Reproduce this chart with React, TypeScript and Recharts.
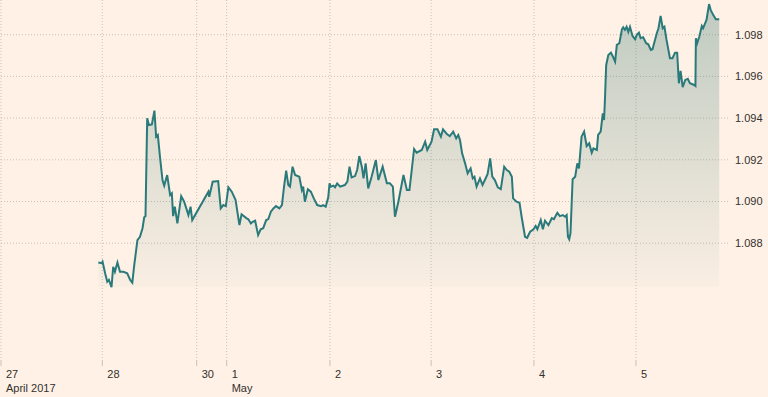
import { AreaChart, Area, XAxis, YAxis, CartesianGrid } from "recharts";

// trading hours since 27 April 00:00 (weekend squeezed, as on the source chart)
const hours = [
  22.9, 23.7, 23.9, 24.5, 25.0, 25.4, 26.0, 26.4, 26.8, 27.4, 28.0, 28.8, 29.7, 30.4, 30.9, 31.3,
  32.1, 32.7, 33.3, 33.7, 34.0, 34.4, 34.8, 35.5, 36.1, 36.5, 36.9, 37.4, 38.0, 38.4, 39.1, 39.8,
  40.2, 40.5, 40.9, 41.5, 42.4, 43.1, 44.1, 44.6, 45.0, 48.8, 49.0, 49.8, 51.1, 51.7, 52.3, 52.9,
  53.5, 54.3, 55.2, 56.1, 56.6, 57.8, 58.2, 58.8, 59.2, 59.8, 60.5, 61.1, 61.7, 62.4, 62.9, 63.5,
  64.1, 64.7, 65.5, 66.1, 66.6, 67.1, 67.6, 68.0, 68.6, 69.2, 70.2, 70.8, 71.1, 71.5, 72.2, 72.9,
  73.6, 74.4, 75.3, 75.8, 76.4, 77.0, 77.3, 77.6, 78.2, 78.6, 79.1, 79.8, 80.9, 81.5, 82.0, 82.5,
  83.3, 83.8, 84.3, 84.9, 85.3, 85.8, 86.4, 87.2, 88.2, 88.8, 89.8, 90.8, 91.5, 92.2, 92.7, 93.5,
  94.7, 95.5, 96.1, 96.6, 97.2, 97.8, 99.0, 99.8, 100.3, 101.3, 101.9, 102.7, 103.5, 104.0, 104.9,
  105.6, 106.4, 107.1, 107.6, 108.0, 108.5, 109.2, 109.8, 110.5, 111.0, 111.4, 111.9, 112.7, 113.3,
  114.1, 114.5, 115.1, 115.6, 116.2, 116.9, 117.6, 118.4, 119.0, 119.6, 120.2, 120.5, 121.3, 122.0,
  122.5, 123.3, 123.8, 124.5, 125.3, 125.8, 126.2, 127.0, 127.5, 128.0, 128.8, 129.6, 130.1, 130.9,
  131.5, 132.2, 132.7, 133.1, 133.4, 133.7, 134.0, 134.5, 135.1, 135.6, 136.0, 136.6, 137.2, 137.8,
  138.4, 139.0, 139.4, 140.2, 140.5, 141.1, 141.6, 141.9, 142.1, 142.4, 142.9, 143.5, 144.0, 144.5,
  144.9, 145.5, 146.1, 146.4, 146.8, 147.2, 147.6, 148.0, 148.6, 149.2, 149.6, 150.1, 150.5, 151.1,
  151.8, 152.3, 152.9, 153.3, 154.3, 154.7, 155.2, 155.7, 156.1, 156.6, 157.4, 158.0, 158.6, 159.1,
  159.5, 159.9, 160.4, 161.0, 161.6, 162.1, 163.1, 163.4, 163.5, 163.8, 164.3, 164.9, 165.2, 165.6,
  166.0, 166.6, 167.0, 167.6, 168.2, 169.0,
];

// EUR/USD
const rate = [
  1.08707, 1.08704, 1.08711, 1.08656, 1.08615, 1.08624, 1.08589, 1.08687, 1.08663, 1.08707, 1.08663,
  1.08663, 1.08656, 1.08624, 1.08611, 1.08687, 1.08815, 1.08831, 1.08872, 1.08924, 1.0893, 1.09399,
  1.09367, 1.0937, 1.09436, 1.09311, 1.09319, 1.09215, 1.09103, 1.09076, 1.09127, 1.09031, 1.09039,
  1.0893, 1.08975, 1.08895, 1.09026, 1.08999, 1.08935, 1.08975, 1.08911, 1.09047, 1.09023, 1.09095,
  1.09098, 1.08967, 1.08983, 1.08978, 1.09068, 1.09047, 1.09007, 1.08887, 1.08939, 1.08919, 1.08915,
  1.08895, 1.08903, 1.08908, 1.08839, 1.08867, 1.08872, 1.08911, 1.08916, 1.08951, 1.08967, 1.08978,
  1.08967, 1.08983, 1.09071, 1.09148, 1.09079, 1.09071, 1.09167, 1.09127, 1.09119, 1.09055, 1.09071,
  1.08999, 1.09059, 1.09047, 1.09015, 1.08983, 1.08978, 1.08983, 1.08975, 1.0902, 1.09087, 1.09071,
  1.09076, 1.09068, 1.09087, 1.09071, 1.09079, 1.09095, 1.09167, 1.09116, 1.09122, 1.09151, 1.09218,
  1.09167, 1.09111, 1.09183, 1.09063, 1.09119, 1.09199, 1.09103, 1.09167, 1.09087, 1.09087, 1.09071,
  1.08927, 1.08999, 1.09127, 1.09055, 1.09055, 1.09143, 1.09252, 1.09234, 1.09247, 1.09287, 1.09247,
  1.09287, 1.09346, 1.09346, 1.09311, 1.09346, 1.09324, 1.09314, 1.09335, 1.09303, 1.09319, 1.09295,
  1.09231, 1.09183, 1.09135, 1.09159, 1.09111, 1.09119, 1.09071, 1.09111, 1.09079, 1.09114, 1.09132,
  1.09207, 1.09119, 1.09103, 1.09068, 1.09059, 1.09167, 1.09151, 1.09143, 1.09119, 1.09015, 1.08999,
  1.08994, 1.08927, 1.08831, 1.08826, 1.08855, 1.08867, 1.08883, 1.08867, 1.08911, 1.08867, 1.08908,
  1.08887, 1.0892, 1.08915, 1.08946, 1.0893, 1.08935, 1.08927, 1.08935, 1.08831, 1.08819, 1.08848,
  1.09107, 1.09119, 1.09183, 1.09159, 1.09311, 1.09335, 1.09266, 1.09279, 1.09234, 1.09255, 1.09247,
  1.09319, 1.09335, 1.09423, 1.09391, 1.09487, 1.09655, 1.09703, 1.09714, 1.09694, 1.09671, 1.09751,
  1.09759, 1.09826, 1.09835, 1.09823, 1.09838, 1.09814, 1.09838, 1.09794, 1.09778, 1.09799, 1.0981,
  1.09783, 1.09788, 1.09759, 1.09754, 1.09727, 1.0973, 1.09807, 1.09831, 1.0989, 1.09831, 1.09838,
  1.09775, 1.09687, 1.09687, 1.09714, 1.09714, 1.09567, 1.09627, 1.09548, 1.09583, 1.09588, 1.09567,
  1.09559, 1.09554, 1.09783, 1.09759, 1.0979, 1.09842, 1.09831, 1.09851, 1.09871, 1.09947, 1.09918,
  1.09894, 1.09874, 1.09874,
];

const dayTicks = [0, 23.83, 46.05, 53.1, 77.4, 101.2, 125.4, 149.4];
const dayLabels = ["27", "28", "30", "1", "2", "3", "4", "5"];
const monthLabels = ["April 2017", "", "", "May", "", "", "", ""];
const rateTicks = [1.088, 1.09, 1.092, 1.094, 1.096, 1.098];

const data = hours.map((t, i) => ({ t, v: rate[i] }));
const low = Math.min(...rate);

const font = "Arial, 'Liberation Sans', sans-serif";

function DayTick(props: any) {
  const { x, y, payload } = props;
  const i = dayTicks.indexOf(payload.value);
  return (
    <g>
      <text x={x + 5} y={y + 10} fontSize={11} fill="#33302e" fontFamily={font}>
        {dayLabels[i]}
      </text>
      {monthLabels[i] && (
        <text x={x + 5} y={y + 24} fontSize={11} fill="#33302e" fontFamily={font}>
          {monthLabels[i]}
        </text>
      )}
    </g>
  );
}

export default function App() {
  return (
    <div
      style={{
        position: "absolute",
        left: 0,
        top: 0,
        width: 768,
        height: 397,
        background: "#fff1e5",
      }}
    >
      <AreaChart
        width={768}
        height={397}
        data={data}
        margin={{ top: 0, right: 0, bottom: 0, left: 1 }}
      >
        <defs>
          <linearGradient id="eurFill" x1="0" y1="0" x2="0" y2="1">
            <stop offset="0" stopColor="#2a716c" stopOpacity={0.5} />
            <stop offset="1" stopColor="#2a716c" stopOpacity={0.04} />
          </linearGradient>
        </defs>

        {/* only lines at the ticks, no frame at the plot edges */}
        <CartesianGrid stroke="#c9c0b6" strokeDasharray="1 2" syncWithTicks />

        <XAxis
          dataKey="t"
          type="number"
          domain={[0, 171.53]}
          ticks={dayTicks}
          tick={<DayTick />}
          tickLine={{ stroke: "#c9c0b6" }}
          tickSize={6}
          axisLine={false}
          height={37}
          interval={0}
        />

        <YAxis
          orientation="right"
          type="number"
          domain={[1.082399, 1.099664]}
          ticks={rateTicks}
          tickFormatter={(v: number) => v.toFixed(3)}
          tick={{ fill: "#33302e", fontSize: 11, fontFamily: font }}
          tickLine={false}
          axisLine={false}
          tickSize={3}
          tickMargin={2}
          width={38}
          allowDataOverflow
        />

        <Area
          type="linear"
          dataKey="v"
          stroke="#2a7a7b"
          strokeWidth={2}
          fill="url(#eurFill)"
          baseValue={low}
          dot={false}
          activeDot={false}
          isAnimationActive={false}
        />
      </AreaChart>
    </div>
  );
}
